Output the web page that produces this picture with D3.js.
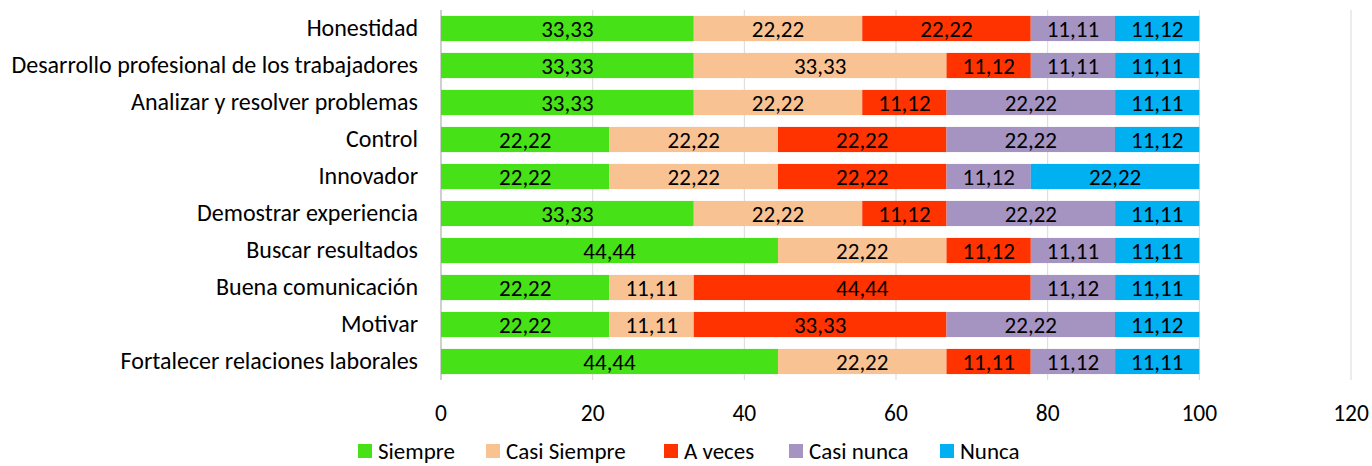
<!DOCTYPE html>
<html>
<head>
<meta charset="utf-8">
<script src="https://cdn.jsdelivr.net/npm/d3@7"></script>
<style>
  body { margin: 0; background: #fff; }
  svg text { font-family: Carlito, "Liberation Sans Narrow", "Liberation Sans", sans-serif; fill: #000; }
</style>
</head>
<body>
<div id="chart"></div>
<script>
var categories = ["Honestidad", "Desarrollo profesional de los trabajadores", "Analizar y resolver problemas",
  "Control", "Innovador", "Demostrar experiencia", "Buscar resultados", "Buena comunicación",
  "Motivar", "Fortalecer relaciones laborales"];
var seriesNames = ["Siempre", "Casi Siempre", "A veces", "Casi nunca", "Nunca"];
var siempre     = [33.33, 33.33, 33.33, 22.22, 22.22, 33.33, 44.44, 22.22, 22.22, 44.44];
var casiSiempre = [22.22, 33.33, 22.22, 22.22, 22.22, 22.22, 22.22, 11.11, 11.11, 22.22];
var aVeces      = [22.22, 11.12, 11.12, 22.22, 22.22, 11.12, 11.12, 44.44, 33.33, 11.11];
var casiNunca   = [11.11, 11.11, 22.22, 22.22, 11.12, 22.22, 11.11, 11.12, 22.22, 11.12];
var nunca       = [11.12, 11.11, 11.11, 11.12, 22.22, 11.11, 11.11, 11.11, 11.12, 11.11];
var xTicks = [0, 20, 40, 60, 80, 100, 120];
var colors = ["#47E117", "#F9C293", "#FF3300", "#A593C2", "#00B0F0"];

var W = 1372, H = 466;
var margin = {top: 10, right: 21, bottom: 86, left: 441};
var width = W - margin.left - margin.right,
    height = H - margin.top - margin.bottom;

var svg = d3.select("#chart").append("svg").attr("width", W).attr("height", H);
var chart = svg.append("g").attr("transform", "translate(" + margin.left + "," + margin.top + ")");

var x = d3.scaleLinear().domain([0, 120]).range([0, width]);
var y = d3.scaleBand().domain(categories).range([0, height]).paddingInner(0.32).paddingOuter(0.16);

// gridlines
chart.selectAll(".grid").data(xTicks.slice(1)).enter().append("line")
    .attr("x1", d => x(d)).attr("x2", d => x(d))
    .attr("y1", 0).attr("y2", height)
    .attr("stroke", "#D9D9D9").attr("stroke-width", 1);

chart.append("line").attr("x1", 0).attr("x2", 0).attr("y1", 0).attr("y2", height)
    .attr("stroke", "#BFBFBF").attr("stroke-width", 1.5);

var series = [siempre, casiSiempre, aVeces, casiNunca, nunca];
var rows = categories.map(function(c, i) {
  var acc = 0;
  return series.map(function(s, k) {
    var seg = {cat: c, k: k, v: s[i], x0: acc};
    acc += s[i];
    seg.x1 = acc;
    return seg;
  });
});
var segs = d3.merge(rows);

chart.selectAll("rect.bar").data(segs).enter().append("rect")
    .attr("class", "bar")
    .attr("x", d => x(d.x0))
    .attr("y", d => y(d.cat))
    .attr("width", d => x(d.x1) - x(d.x0))
    .attr("height", y.bandwidth())
    .attr("fill", d => colors[d.k]);

var fmt = d => d3.format(".2f")(d).replace(".", ",");
chart.selectAll("text.lbl").data(segs).enter().append("text")
    .attr("class", "lbl")
    .attr("x", d => (x(d.x0) + x(d.x1)) / 2)
    .attr("y", d => y(d.cat) + y.bandwidth() / 2)
    .attr("dy", "0.35em")
    .attr("text-anchor", "middle")
    .style("font-size", "23px")
    .text(d => fmt(d.v));

// category labels
chart.selectAll("text.cat").data(categories).enter().append("text")
    .attr("class", "cat")
    .attr("x", -23)
    .attr("y", d => y(d) + y.bandwidth() / 2)
    .attr("dy", "0.3em")
    .attr("text-anchor", "end")
    .style("font-size", "24px")
    .text(d => d);

// x tick labels
chart.selectAll("text.tick").data(xTicks).enter().append("text")
    .attr("class", "tick")
    .attr("x", d => x(d))
    .attr("y", height + 41)
    .attr("text-anchor", "middle")
    .style("font-size", "23.5px")
    .text(d => d);

// legend
var legendX = [358, 486, 664, 789, 940];
var legend = svg.selectAll("g.leg").data(seriesNames).enter().append("g")
    .attr("transform", (d, i) => "translate(" + legendX[i] + ",444)");
legend.append("rect").attr("width", 14).attr("height", 14).attr("fill", (d, i) => colors[i]);
legend.append("text").attr("x", 20).attr("y", 7).attr("dy", "0.33em")
    .style("font-size", "23px").text(d => d);
</script>
</body>
</html>
